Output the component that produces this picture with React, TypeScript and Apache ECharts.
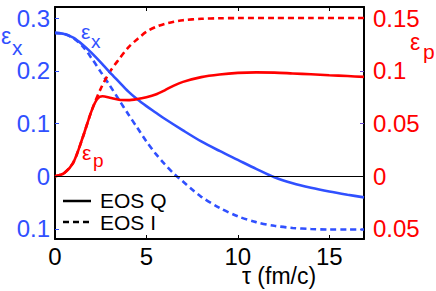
import React, { useEffect, useRef } from "react";
import * as echarts from "echarts";

// time axis (fm/c)
const tauQx = [0, 0.5, 1, 1.5, 2, 2.5, 3, 3.5, 4, 4.5, 5, 5.5, 6, 7, 8, 9, 10, 11, 12, 13, 14, 15, 16, 16.9];
const epsXQ = [0.272, 0.27, 0.263, 0.25, 0.234, 0.216, 0.197, 0.179, 0.161, 0.146, 0.133, 0.121, 0.109, 0.087, 0.066, 0.048, 0.031, 0.014, -0.002, -0.0135, -0.022, -0.029, -0.035, -0.04];

const tauIx = [0, 0.5, 1, 1.5, 2, 2.5, 3, 3.5, 4, 4.5, 5, 5.5, 6, 6.5, 7, 7.5, 8, 9, 10, 11, 12, 13, 14, 15, 16, 16.9];
const epsXI = [0.272, 0.27, 0.262, 0.247, 0.224, 0.198, 0.172, 0.145, 0.118, 0.092, 0.066, 0.043, 0.023, 0.005, -0.01, -0.025, -0.039, -0.06, -0.076, -0.087, -0.094, -0.098, -0.1, -0.101, -0.101, -0.101];

const tauQp = [0, 0.5, 1, 1.5, 2, 2.3, 2.6, 3, 3.5, 4, 4.5, 5, 5.5, 6, 6.5, 7, 8, 9, 10, 11, 12, 13, 14, 15, 16, 16.9];
const epsPQ = [0, 0.003, 0.013, 0.036, 0.062, 0.073, 0.0758, 0.0745, 0.0725, 0.0722, 0.0732, 0.075, 0.0775, 0.0815, 0.086, 0.0895, 0.094, 0.0965, 0.098, 0.0985, 0.0983, 0.0975, 0.0967, 0.0958, 0.095, 0.0942];

const tauIp = [0, 0.5, 1, 1.5, 2, 2.5, 3, 3.5, 4, 4.5, 5, 5.5, 6, 6.5, 7, 8, 9, 10, 12, 14, 16.9];
const epsPI = [0, 0.003, 0.013, 0.036, 0.062, 0.083, 0.099, 0.111, 0.122, 0.13, 0.137, 0.1415, 0.1445, 0.1465, 0.148, 0.1493, 0.1498, 0.15, 0.15, 0.15, 0.15];

const xTicks = [0, 5, 10, 15];
const leftTicks = [-0.1, 0, 0.1, 0.2, 0.3];
const leftTickLabels = ["0.1", "0", "0.1", "0.2", "0.3"];
const rightTicks = [-0.05, 0, 0.05, 0.1, 0.15];
const rightTickLabels = ["0.05", "0", "0.05", "0.1", "0.15"];

const legendNames = ["EOS Q", "EOS I"];

const BLUE = "#3050ff";
const RED = "#ff0000";
const FONT = "Liberation Sans, Arial, Helvetica, sans-serif";

const zip = (a: number[], b: number[]) => a.map((t, i) => [t, b[i]]);
const pick = (ticks: number[], labels: string[]) => (v: number) => {
  let best = 0;
  for (let i = 0; i < ticks.length; i++) if (Math.abs(ticks[i] - v) < Math.abs(ticks[best] - v)) best = i;
  return labels[best];
};

export default function App() {
  const ref = useRef<HTMLDivElement>(null);
  useEffect(() => {
    if (!ref.current) return;
    const chart = echarts.init(ref.current, undefined, { renderer: "svg" });
    const txt = (text: string, x: number, y: number, size: number, color: string, align = "left", lh?: number) => ({
      type: "text",
      x,
      y,
      silent: true,
      style: {
        text,
        fill: color,
        font: `${size}px ${FONT}`,
        textAlign: align,
        textVerticalAlign: "middle",
        align,
        verticalAlign: "middle",
        lineHeight: lh ?? size,
      },
    });
    chart.setOption({
      animation: false,
      grid: { left: 55, right: 72, top: 7, bottom: 52 },
      xAxis: [
        {
          type: "value",
          min: 0,
          max: 16.9,
          interval: 5,
          position: "bottom",
          axisLine: { onZero: false, lineStyle: { color: "#000", width: 2 } },
          axisTick: { inside: true, length: 4, lineStyle: { color: "#000", width: 1 }, customValues: xTicks },
          axisLabel: { customValues: xTicks, color: "#000", fontSize: 24, lineHeight: 20, fontFamily: FONT, margin: 7 },
          splitLine: { show: false },
        },
        {
          type: "value",
          min: 0,
          max: 16.9,
          interval: 5,
          position: "top",
          axisLine: { onZero: false, lineStyle: { color: "#000", width: 2 } },
          axisTick: { inside: true, length: 4, lineStyle: { color: "#000", width: 1 }, customValues: xTicks },
          axisLabel: { show: false },
          splitLine: { show: false },
        },
      ],
      yAxis: [
        {
          type: "value",
          min: -0.119,
          max: 0.321,
          position: "left",
          axisLine: { show: true, onZero: false, lineStyle: { color: "#000", width: 2 } },
          axisTick: { show: true, inside: true, length: 4, lineStyle: { color: BLUE, width: 1 }, customValues: leftTicks },
          axisLabel: {
            customValues: leftTicks,
            formatter: pick(leftTicks, leftTickLabels),
            color: BLUE,
            fontSize: 24,
            fontFamily: FONT,
            margin: 5,
          },
          splitLine: { show: false },
        },
        {
          type: "value",
          min: -0.0595,
          max: 0.1605,
          position: "right",
          axisLine: { show: true, onZero: false, lineStyle: { color: "#000", width: 2 } },
          axisTick: { show: true, inside: true, length: 4, lineStyle: { color: "#6a4ad0", width: 1 }, customValues: rightTicks },
          axisLabel: {
            customValues: rightTicks,
            formatter: pick(rightTicks, rightTickLabels),
            color: RED,
            fontSize: 24,
            fontFamily: FONT,
            margin: 9,
          },
          splitLine: { show: false },
        },
      ],
      series: [
        {
          name: "εx EOS I",
          type: "line",
          yAxisIndex: 0,
          data: zip(tauIx, epsXI),
          smooth: 0.3,
          symbol: "none",
          lineStyle: { color: BLUE, width: 2.6, type: [6, 4] },
          z: 2,
        },
        {
          name: "εx EOS Q",
          type: "line",
          yAxisIndex: 0,
          data: zip(tauQx, epsXQ),
          smooth: 0.3,
          symbol: "none",
          lineStyle: { color: BLUE, width: 2.6 },
          z: 3,
          markLine: {
            silent: true,
            symbol: "none",
            label: { show: false },
            lineStyle: { color: "#000", width: 1, type: "solid" },
            data: [{ yAxis: 0 }],
          },
        },
        {
          name: "εp EOS I",
          type: "line",
          yAxisIndex: 1,
          data: zip(tauIp, epsPI),
          smooth: 0.3,
          symbol: "none",
          lineStyle: { color: RED, width: 2.6, type: [6, 4] },
          z: 2,
        },
        {
          name: "εp EOS Q",
          type: "line",
          yAxisIndex: 1,
          data: zip(tauQp, epsPQ),
          smooth: 0.3,
          symbol: "none",
          lineStyle: { color: RED, width: 2.6 },
          z: 4,
        },
      ],
      graphic: [
        // outer axis names
        txt("ε", 1, 36, 23, BLUE),
        txt("x", 12, 47, 21, BLUE),
        txt("ε", 410, 42, 23, RED),
        txt("p", 423, 51, 21, RED),
        // inner curve labels
        txt("ε", 81, 31, 21, BLUE),
        txt("x", 91, 41, 19, BLUE),
        txt("ε", 82, 152, 21, RED),
        txt("p", 93, 160, 19, RED),
        // x-axis title
        txt("τ (fm/c)", 279, 276, 23, "#000", "center", 18),
        // legend
        { type: "line", silent: true, shape: { x1: 63, y1: 201, x2: 91, y2: 201 }, style: { stroke: "#000", lineWidth: 2.5 } },
        { type: "line", silent: true, shape: { x1: 63, y1: 222, x2: 91, y2: 222 }, style: { stroke: "#000", lineWidth: 2.5, lineDash: [6, 4] } },
        txt(legendNames[0], 100, 200, 21, "#000", "left", 19),
        txt(legendNames[1], 100, 222.5, 21, "#000", "left", 19),
      ],
    });
    return () => chart.dispose();
  }, []);
  return <div ref={ref} style={{ width: 436, height: 291, position: "absolute", left: 0, top: 0 }} />;
}
